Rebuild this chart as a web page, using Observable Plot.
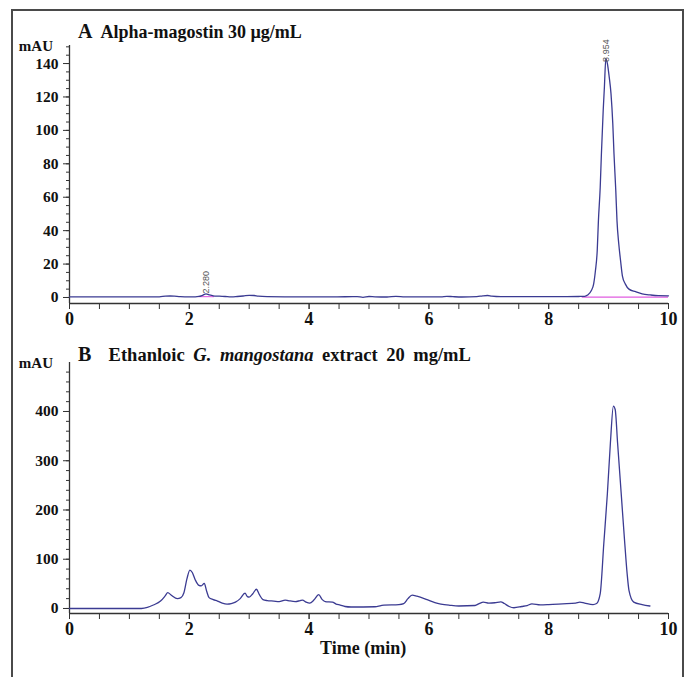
<!DOCTYPE html>
<html>
<head>
<meta charset="utf-8">
<script src="https://cdn.jsdelivr.net/npm/d3@7"></script>
<script src="https://cdn.jsdelivr.net/npm/@observablehq/plot@0.6"></script>
<style>
  html, body { margin: 0; padding: 0; background: #fff; }
  #page { position: relative; width: 688px; height: 677px; overflow: hidden; font-family: "Liberation Serif", "Times New Roman", serif; font-weight: bold; color: #111; }
  #border { position: absolute; left: 11px; top: 9px; width: 673px; height: 700px; border: 2px solid #4a4a4a; box-sizing: border-box; }
  .abs { position: absolute; white-space: nowrap; }
  .title { font-size: 18px; line-height: 18px; }
  .title .lt { font-size: 20px; }
  .titleB { font-size: 18.5px; word-spacing: 4px; }
  .unit { font-size: 15px; line-height: 15px; text-align: right; width: 45px; }
  .plot { position: absolute; left: 0; }
</style>
</head>
<body>
<div id="page">
  <div id="border"></div>
  <div id="plotA" class="plot" style="top:0px"></div>
  <div id="plotB" class="plot" style="top:330px"></div>
  <div class="abs title" style="left:78px; top:22px"><span class="lt">A</span>&nbsp; Alpha-magostin 30 µg/mL</div>
  <div class="abs unit" style="left:8px; top:39px">mAU</div>
  <div class="abs title titleB" style="left:78px; top:345px"><span class="lt">B</span>&nbsp; Ethanloic <i>G. mangostana</i> extract 20 mg/mL</div>
  <div class="abs unit" style="left:8px; top:356px">mAU</div>
  <div class="abs title" style="left:320px; top:639px">Time (min)</div>
</div>
<script>
// ---- Panel A: Alpha-mangostin standard 30 µg/mL ----
const aTime = [0, 0.5, 1.0, 1.5, 1.6, 1.68, 1.75, 1.85, 2.0, 2.1, 2.16, 2.22, 2.28, 2.33, 2.4, 2.5, 2.6, 2.7, 2.8, 2.9, 3.0, 3.08, 3.15, 3.3, 3.6, 4.0, 4.4, 4.8, 4.9, 5.0, 5.1, 5.3, 5.45, 5.6, 5.9, 6.2, 6.3, 6.4, 6.55, 6.8, 6.9, 6.98, 7.05, 7.2, 7.6, 8.0, 8.3, 8.5, 8.6, 8.65, 8.71, 8.75, 8.78, 8.81, 8.83, 8.86, 8.88, 8.91, 8.93, 8.954, 8.98, 9.01, 9.04, 9.07, 9.09, 9.12, 9.14, 9.17, 9.2, 9.23, 9.28, 9.34, 9.45, 9.56, 9.7, 9.83, 10.0];
const aSignal = [0.4, 0.4, 0.4, 0.4, 0.8, 0.9, 0.8, 0.5, 0.4, 0.4, 0.6, 1.3, 2.2, 1.6, 1.0, 0.8, 0.6, 0.4, 0.6, 0.9, 1.3, 1.2, 0.8, 0.5, 0.4, 0.4, 0.4, 0.5, 0.1, 0.6, 0.4, 0.3, 0.7, 0.4, 0.4, 0.4, 0.7, 0.5, 0.3, 0.5, 1.0, 1.2, 0.8, 0.5, 0.5, 0.5, 0.5, 0.6, 0.7, 1.5, 4, 8, 16, 28, 46, 66, 86, 112, 126, 143, 140, 132, 122, 104, 86, 64, 46, 32, 22, 13, 8, 5, 3.5, 2.2, 1.5, 1.1, 1.0];
const aPeakTimes = [2.280, 8.954];
const aPeakHeights = [2.4, 141];
const aPeakLabels = ["2.280", "8.954"];
const aBaseStart = [2.16, 8.56];
const aBaseEnd = [2.42, 10.0];
const aBaseLevel = [0.5, 0.2];
const aYTicks = [0, 20, 40, 60, 80, 100, 120, 140];

// ---- Panel B: ethanolic G. mangostana extract 20 mg/mL ----
const bTime = [0, 0.5, 1.0, 1.2, 1.3, 1.4, 1.52, 1.6, 1.64, 1.7, 1.8, 1.86, 1.91, 1.96, 2.01, 2.05, 2.1, 2.16, 2.2, 2.25, 2.29, 2.33, 2.4, 2.47, 2.55, 2.63, 2.7, 2.77, 2.85, 2.93, 2.97, 3.0, 3.06, 3.12, 3.17, 3.23, 3.3, 3.41, 3.5, 3.6, 3.65, 3.77, 3.85, 3.89, 3.95, 4.01, 4.08, 4.16, 4.22, 4.27, 4.39, 4.45, 4.52, 4.6, 4.7, 5.1, 5.2, 5.25, 5.5, 5.58, 5.65, 5.72, 5.8, 5.97, 6.1, 6.2, 6.35, 6.5, 6.77, 6.84, 6.91, 7.0, 7.1, 7.2, 7.26, 7.34, 7.42, 7.55, 7.64, 7.72, 7.86, 8.0, 8.23, 8.45, 8.52, 8.6, 8.74, 8.8, 8.86, 8.92, 8.98, 9.03, 9.08, 9.11, 9.15, 9.21, 9.27, 9.31, 9.34, 9.42, 9.56, 9.69];
const bSignal = [0, 0, 0, 0, 2, 7, 15, 26, 32, 27, 20, 22, 32, 60, 78, 73, 58, 47, 46, 51, 35, 22, 18, 15, 11, 9, 10, 13, 20, 31, 24, 23, 30, 39, 28, 18, 16, 15, 14, 17, 16, 14, 16, 17, 13, 11, 17, 28, 18, 14, 13, 9, 7, 4, 3, 3.5, 6, 7, 8, 10, 20, 27, 25, 18, 12, 9, 6.5, 5, 6, 10, 13, 11, 11.6, 13.6, 10, 4, 1.5, 4, 6, 9.5, 7.5, 8, 9.5, 11, 13, 11, 8, 10, 30, 132, 234, 336, 411, 404, 336, 234, 132, 70, 37, 13, 8, 5];
const bYTicks = [0, 100, 200, 300, 400];

const timeTicksHalf = d3.range(0, 10.001, 0.5);
const timeLabels = [0, 2, 4, 6, 8, 10];

const traceColor = "#3b3b92";
const baseColor = "#e05ce0";
const axisColor = "#333";

const aRows = aTime.map((t, i) => ({t, v: aSignal[i]}));
const bRows = bTime.map((t, i) => ({t, v: bSignal[i]}));
const aPeaks = aPeakTimes.map((t, i) => ({t, v: aPeakHeights[i], label: aPeakLabels[i]}));
const aBases = aBaseStart.map((s, i) => ({s, e: aBaseEnd[i], v: aBaseLevel[i]}));

const common = {
  width: 688,
  marginLeft: 69,
  marginRight: 20,
  style: {fontFamily: "Liberation Serif, Times New Roman, serif", fontWeight: "bold", fontSize: "15px", color: "#111", background: "transparent"}
};

function axesMarks(yDomain, yMajor, yMinorStep) {
  const yMinor = d3.range(0, yDomain[1] + 0.001, yMinorStep);
  return [
    Plot.ruleX([0], {stroke: axisColor, strokeWidth: 1.3}),
    Plot.ruleY([yDomain[0]], {stroke: axisColor, strokeWidth: 1.3}),
    Plot.axisY({ticks: yMinor, tickSize: 3, tickFormat: () => "", stroke: axisColor, label: null}),
    Plot.axisY({ticks: yMajor, tickSize: 6, tickPadding: 5, fontSize: 15.5, fontWeight: "bold", stroke: axisColor, label: null}),
    Plot.axisX({ticks: timeTicksHalf, tickSize: 6, tickFormat: () => "", stroke: axisColor, label: null}),
    Plot.axisX({ticks: timeLabels, tickSize: 6, tickPadding: 3, fontSize: 18, fontWeight: "bold", stroke: axisColor, tickFormat: d => String(d), label: null})
  ];
}

const yDomA = [-3.6, 150.8];
const plotA = Plot.plot({
  ...common,
  height: 340,
  marginTop: 45,
  marginBottom: 37,
  x: {domain: [0, 10], axis: null},
  y: {domain: yDomA, axis: null},
  marks: [
    ...axesMarks(yDomA, aYTicks, 5),
    Plot.ruleY(aBases, {x1: "s", x2: "e", y: "v", stroke: baseColor, strokeWidth: 1.1}),
    Plot.line(aRows, {x: "t", y: "v", stroke: traceColor, strokeWidth: 1.3, curve: "monotone-x"}),
    Plot.text(aPeaks, {x: "t", y: "v", text: "label", rotate: -90, textAnchor: "start", fontSize: 9, fontWeight: "normal", fontFamily: "Liberation Sans Narrow, Liberation Sans, Arial, sans-serif", fill: "#555"})
  ]
});
document.getElementById("plotA").append(plotA);

const yDomB = [-10.2, 499.5];
const plotB = Plot.plot({
  ...common,
  height: 347,
  marginTop: 32,
  marginBottom: 64,
  x: {domain: [0, 10], axis: null},
  y: {domain: yDomB, axis: null},
  marks: [
    ...axesMarks(yDomB, bYTicks, 20),
    Plot.line(bRows, {x: "t", y: "v", stroke: traceColor, strokeWidth: 1.3, curve: "monotone-x"})
  ]
});
document.getElementById("plotB").append(plotB);
</script>
</body>
</html>
